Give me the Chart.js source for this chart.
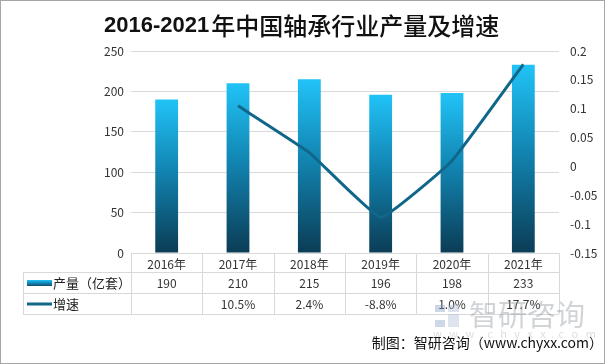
<!DOCTYPE html>
<html>
<head>
<meta charset="utf-8">
<script src="https://cdn.jsdelivr.net/npm/chart.js@4.4.1/dist/chart.umd.min.js"></script>
<style>
  html, body { margin: 0; padding: 0; background: #fff; }
  #wrap { width: 605px; height: 364px; }
</style>
</head>
<body>
<div id="wrap"><canvas id="c" width="605" height="364"></canvas></div>
<script>
// --- data ---
var years = ['2016年', '2017年', '2018年', '2019年', '2020年', '2021年'];
var output = [190, 210, 215, 196, 198, 233];          // 产量（亿套）
var growth = [null, 10.5, 2.4, -8.8, 1.0, 17.7];      // 增速 (%)
var leftTicks = [0, 50, 100, 150, 200, 250];
var rightTicks = [-0.15, -0.1, -0.05, 0, 0.05, 0.1, 0.15, 0.2];

var FONT = '"Noto Sans CJK SC", "Noto Sans", sans-serif';
var LINE_COLOR = '#10678a';
var GRID = '#d9d9d9';

function barGradient(ctx, top, bottom) {
  var g = ctx.createLinearGradient(0, top, 0, bottom);
  g.addColorStop(0, '#21c3f7');
  g.addColorStop(0.45, '#1286b3');
  g.addColorStop(1, '#0b3c55');
  return g;
}

// title, data table, watermark, source line
var tablePlugin = {
  id: 'tablePlugin',
  afterDraw: function(chart) {
    var ctx = chart.ctx;
    var area = chart.chartArea;
    var n = years.length;
    var cw = (area.right - area.left) / n;
    var rowLines = [272, 293, 314];
    var tableLeft = 23;

    ctx.save();
    // title: bold latin part, then the chinese part
    ctx.fillStyle = '#111';
    ctx.textBaseline = 'middle';
    ctx.textAlign = 'left';
    ctx.font = 'bold 22px "Liberation Sans", sans-serif';
    ctx.fillText('2016-2021', 104, 26);
    var w = ctx.measureText('2016-2021').width;
    ctx.font = '500 24px ' + FONT;
    ctx.fillText('年中国轴承行业产量及增速', 104 + w + 2, 26);

    // table grid
    ctx.strokeStyle = GRID;
    ctx.lineWidth = 1;
    ctx.beginPath();
    rowLines.forEach(function(y) {
      ctx.moveTo(tableLeft, y + 0.5);
      ctx.lineTo(area.right, y + 0.5);
    });
    ctx.moveTo(tableLeft + 0.5, rowLines[0]);
    ctx.lineTo(tableLeft + 0.5, rowLines[2]);
    for (var i = 0; i <= n; i++) {
      var x = Math.round(area.left + i * cw) + 0.5;
      ctx.moveTo(x, area.bottom);
      ctx.lineTo(x, rowLines[2]);
    }
    ctx.stroke();

    // cell texts
    ctx.fillStyle = '#333';
    ctx.font = '12px ' + FONT;
    ctx.textAlign = 'center';
    for (var j = 0; j < n; j++) {
      var cx = area.left + (j + 0.5) * cw;
      ctx.fillText(years[j], cx, 264);
      ctx.fillText(String(output[j]), cx, 283);
      if (growth[j] !== null) ctx.fillText(growth[j].toFixed(1) + '%', cx, 304);
    }

    // legend keys
    ctx.fillStyle = barGradient(ctx, 280, 287);
    ctx.fillRect(27, 280, 25, 6);
    ctx.strokeStyle = LINE_COLOR;
    ctx.lineWidth = 3;
    ctx.beginPath();
    ctx.moveTo(27, 304);
    ctx.lineTo(52, 304);
    ctx.stroke();
    ctx.fillStyle = '#222';
    ctx.font = '13px ' + FONT;
    ctx.textAlign = 'left';
    ctx.fillText('产量（亿套）', 53, 283);
    ctx.fillText('增速', 53, 304);

    // watermark
    ctx.globalAlpha = 0.4;
    ctx.fillStyle = '#7f9cc4';
    ctx.fillRect(435, 305, 10, 7);
    ctx.fillRect(435, 320, 10, 7);
    ctx.fillStyle = '#a9bcd4';
    ctx.fillRect(448, 305, 11, 7);
    ctx.fillRect(448, 314, 11, 13);
    ctx.fillStyle = '#8c939b';
    ctx.font = '29px ' + FONT;
    ctx.fillText('智研咨询', 469, 315);
    ctx.globalAlpha = 0.3;
    ctx.font = '11px ' + FONT;
    ctx.fillText('w   w   w  .  c   h   y   x   x  .  c   o   m', 433, 334);
    ctx.globalAlpha = 1;

    // source line
    ctx.fillStyle = '#111';
    ctx.font = '14px ' + FONT;
    ctx.textAlign = 'right';
    ctx.fillText('制图：智研咨询（www.chyxx.com）', 603, 343);

    // outer frame
    ctx.strokeStyle = '#a6a6a6';
    ctx.lineWidth = 1;
    ctx.strokeRect(0.5, 0.5, 604, 363);
    ctx.restore();
  }
};

new Chart(document.getElementById('c'), {
  data: {
    labels: years,
    datasets: [
      {
        type: 'line',
        label: '增速',
        data: growth.map(function(v) { return v === null ? null : v / 100; }),
        yAxisID: 'y1',
        borderColor: LINE_COLOR,
        borderWidth: 3,
        pointRadius: 0,
        tension: 0.1,
        order: 0
      },
      {
        type: 'bar',
        label: '产量（亿套）',
        data: output,
        yAxisID: 'y',
        backgroundColor: function(context) {
          var chart = context.chart;
          var ys = chart.scales.y;
          if (!chart.chartArea || !ys || context.raw === undefined) return '#1286b3';
          return barGradient(chart.ctx, ys.getPixelForValue(context.raw), ys.getPixelForValue(0));
        },
        categoryPercentage: 1,
        barPercentage: 0.32,
        order: 1
      }
    ]
  },
  options: {
    responsive: false,
    animation: false,
    layout: { padding: { top: 51, bottom: 111, left: 0, right: 0 } },
    plugins: {
      legend: { display: false },
      tooltip: { enabled: false },
      title: { display: false }
    },
    scales: {
      x: { display: false, offset: true },
      y: {
        position: 'left',
        min: 0,
        max: 250,
        afterBuildTicks: function(s) { s.ticks = leftTicks.map(function(v) { return { value: v }; }); },
        afterFit: function(s) { s.width = 131; },
        border: { display: false },
        grid: { color: GRID, drawTicks: false },
        ticks: { padding: 7, color: '#333', font: { family: FONT, size: 12 } }
      },
      y1: {
        position: 'right',
        min: -0.15,
        max: 0.2,
        afterBuildTicks: function(s) { s.ticks = rightTicks.map(function(v) { return { value: v }; }); },
        afterFit: function(s) { s.width = 46; },
        border: { display: false },
        grid: { display: false, drawTicks: false },
        ticks: {
          padding: 11,
          color: '#333',
          font: { family: FONT, size: 12 },
          callback: function(v) { return String(Math.round(v * 100) / 100); }
        }
      }
    }
  },
  plugins: [tablePlugin]
});
</script>
</body>
</html>
